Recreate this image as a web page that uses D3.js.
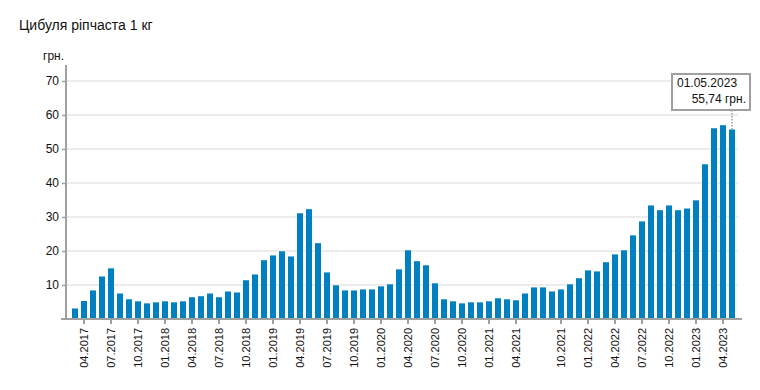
<!DOCTYPE html>
<html>
<head>
<meta charset="utf-8">
<script src="https://cdn.jsdelivr.net/npm/d3@7"></script>
<style>
  body { margin: 0; background: #fff; }
  svg { font-family: "Liberation Sans", Arial, sans-serif; }
</style>
</head>
<body>
<div id="chart"></div>
<script>
// months (07.2021 is absent in the source data)
const months = [
  '03.2017', '04.2017', '05.2017', '06.2017', '07.2017', '08.2017', '09.2017', '10.2017', '11.2017', '12.2017',
  '01.2018', '02.2018', '03.2018', '04.2018', '05.2018', '06.2018', '07.2018', '08.2018', '09.2018', '10.2018', '11.2018', '12.2018',
  '01.2019', '02.2019', '03.2019', '04.2019', '05.2019', '06.2019', '07.2019', '08.2019', '09.2019', '10.2019', '11.2019', '12.2019',
  '01.2020', '02.2020', '03.2020', '04.2020', '05.2020', '06.2020', '07.2020', '08.2020', '09.2020', '10.2020', '11.2020', '12.2020',
  '01.2021', '02.2021', '03.2021', '04.2021', '05.2021', '06.2021', '08.2021', '09.2021', '10.2021', '11.2021', '12.2021',
  '01.2022', '02.2022', '03.2022', '04.2022', '05.2022', '06.2022', '07.2022', '08.2022', '09.2022', '10.2022', '11.2022', '12.2022',
  '01.2023', '02.2023', '03.2023', '04.2023', '05.2023'
];

const prices = [
  3.1, 5.3, 8.4, 12.5, 14.9, 7.5, 5.8, 5.2, 4.6, 4.9,
  5.2, 4.9, 5.2, 6.4, 6.7, 7.5, 6.4, 8.1, 7.8, 11.4, 13.1, 17.3,
  18.7, 19.9, 18.4, 31.1, 32.3, 22.3, 13.7, 9.9, 8.4, 8.4, 8.7, 8.7,
  9.6, 10.2, 14.6, 20.2, 17.0, 15.8, 10.5, 5.8, 5.2, 4.6, 4.9, 4.9,
  5.2, 6.1, 5.8, 5.5, 7.5, 9.3, 9.3, 8.1, 8.7, 10.2, 12.0,
  14.3, 14.0, 16.7, 19.0, 20.2, 24.6, 28.7, 33.4, 32.0, 33.4, 32.0, 32.5,
  34.9, 45.5, 56.1, 57.0, 55.74
];

const yTicks = [10, 20, 30, 40, 50, 60, 70];
const title = 'Цибуля ріпчаста 1 кг';
const unit = 'грн.';
const tipDate = '01.05.2023';
const tipValue = '55,74 грн.';

const Chart = {
  init() {
    this.wrapper = document.querySelector('#chart');
    this.setVar();
    this.create();
    this.scales();
    this.grid();
    this.bars();
    this.axis();
    this.tooltip();
  },

  setVar() {
    this.blue = '#0080c0';
    this.axisColor = '#a0a0a0';
    this.gridColor = '#e6e6e6';
    this.width = 760;
    this.height = 390;
    this.left = 66;
    this.bottom = 319;
  },

  create() {
    this.svg = d3.select('#chart').append('svg')
      .attr('width', this.width)
      .attr('height', this.height);

    this.svg.append('text')
      .attr('x', 19)
      .attr('y', 30)
      .attr('font-size', '14px')
      .attr('fill', '#111')
      .text(title);

    this.svg.append('text')
      .attr('x', 43)
      .attr('y', 60)
      .attr('font-size', '12px')
      .attr('fill', '#111')
      .text(unit);
  },

  scales() {
    this.x = d3.scaleBand()
      .domain(months)
      .range([70.5, 736.5])
      .paddingInner(1 / 3)
      .paddingOuter(1 / 6);

    this.y = d3.scaleLinear()
      .domain([0, 70])
      .range([this.bottom, 81]);
  },

  grid() {
    this.svg.append('g')
      .selectAll('line')
      .data(yTicks)
      .join('line')
      .attr('x1', this.left)
      .attr('x2', 738)
      .attr('y1', (d) => this.y(d))
      .attr('y2', (d) => this.y(d))
      .attr('stroke', this.gridColor)
      .attr('stroke-width', 1.5);
  },

  bars() {
    const data = months.map((m, i) => ({ month: m, value: prices[i] }));
    this.svg.append('g')
      .selectAll('rect')
      .data(data)
      .join('rect')
      .attr('x', (d) => this.x(d.month))
      .attr('y', (d) => this.y(d.value))
      .attr('width', this.x.bandwidth())
      .attr('height', (d) => this.bottom - this.y(d.value))
      .attr('fill', this.blue);
  },

  axis() {
    const ay = d3.axisLeft(this.y)
      .tickValues(yTicks)
      .tickSize(4)
      .tickPadding(3);
    const ayCall = this.svg.append('g')
      .attr('transform', `translate(${this.left},0)`)
      .call(ay);
    ayCall.select('.domain').remove();
    ayCall.selectAll('line').attr('stroke', this.axisColor).attr('stroke-width', 1.5);
    ayCall.selectAll('text')
      .attr('font-size', '12px')
      .attr('fill', '#111')
      .style('font-family', '"Liberation Sans", Arial, sans-serif');

    const ax = d3.axisBottom(this.x)
      .tickValues(months.filter((m) => ['01', '04', '07', '10'].includes(m.slice(0, 2))))
      .tickSize(5)
      .tickSizeOuter(0);
    const axCall = this.svg.append('g')
      .attr('transform', `translate(0,${this.bottom})`)
      .call(ax);
    axCall.select('.domain').remove();
    axCall.selectAll('line').attr('stroke', this.axisColor).attr('stroke-width', 2);
    axCall.selectAll('text')
      .attr('font-size', '11px')
      .attr('fill', '#111')
      .style('font-family', '"Liberation Sans", Arial, sans-serif')
      .attr('text-anchor', 'end')
      .attr('transform', 'rotate(-90)')
      .attr('x', -9)
      .attr('y', 0)
      .attr('dy', '0.35em');

    // axis lines
    this.svg.append('line')
      .attr('x1', this.left).attr('x2', this.left)
      .attr('y1', 65).attr('y2', this.bottom)
      .attr('stroke', this.axisColor).attr('stroke-width', 2);
    this.svg.append('line')
      .attr('x1', 61).attr('x2', 742)
      .attr('y1', this.bottom).attr('y2', this.bottom)
      .attr('stroke', this.axisColor).attr('stroke-width', 2);
  },

  tooltip() {
    const last = months[months.length - 1];
    const cx = this.x(last) + this.x.bandwidth() / 2;
    const cy = this.y(prices[prices.length - 1]);

    const boxRight = cx + 18;
    const boxLeft = boxRight - 78;
    const boxTop = 74;
    const boxBottom = 110;

    this.svg.append('line')
      .attr('x1', cx).attr('x2', cx)
      .attr('y1', boxBottom).attr('y2', cy)
      .attr('stroke', '#999')
      .attr('stroke-width', 1.5)
      .attr('stroke-dasharray', '1.5,1.5');

    this.svg.append('rect')
      .attr('x', boxLeft)
      .attr('y', boxTop)
      .attr('width', boxRight - boxLeft)
      .attr('height', boxBottom - boxTop)
      .attr('fill', '#fff')
      .attr('stroke', '#a0a0a0')
      .attr('stroke-width', 2);

    this.svg.append('text')
      .attr('x', boxLeft + 5)
      .attr('y', boxTop + 13)
      .attr('font-size', '12px')
      .attr('fill', '#111')
      .text(tipDate);

    this.svg.append('text')
      .attr('x', boxRight - 4)
      .attr('y', boxTop + 29)
      .attr('font-size', '12px')
      .attr('text-anchor', 'end')
      .attr('fill', '#111')
      .text(tipValue);
  },
};

Chart.init();
</script>
</body>
</html>
